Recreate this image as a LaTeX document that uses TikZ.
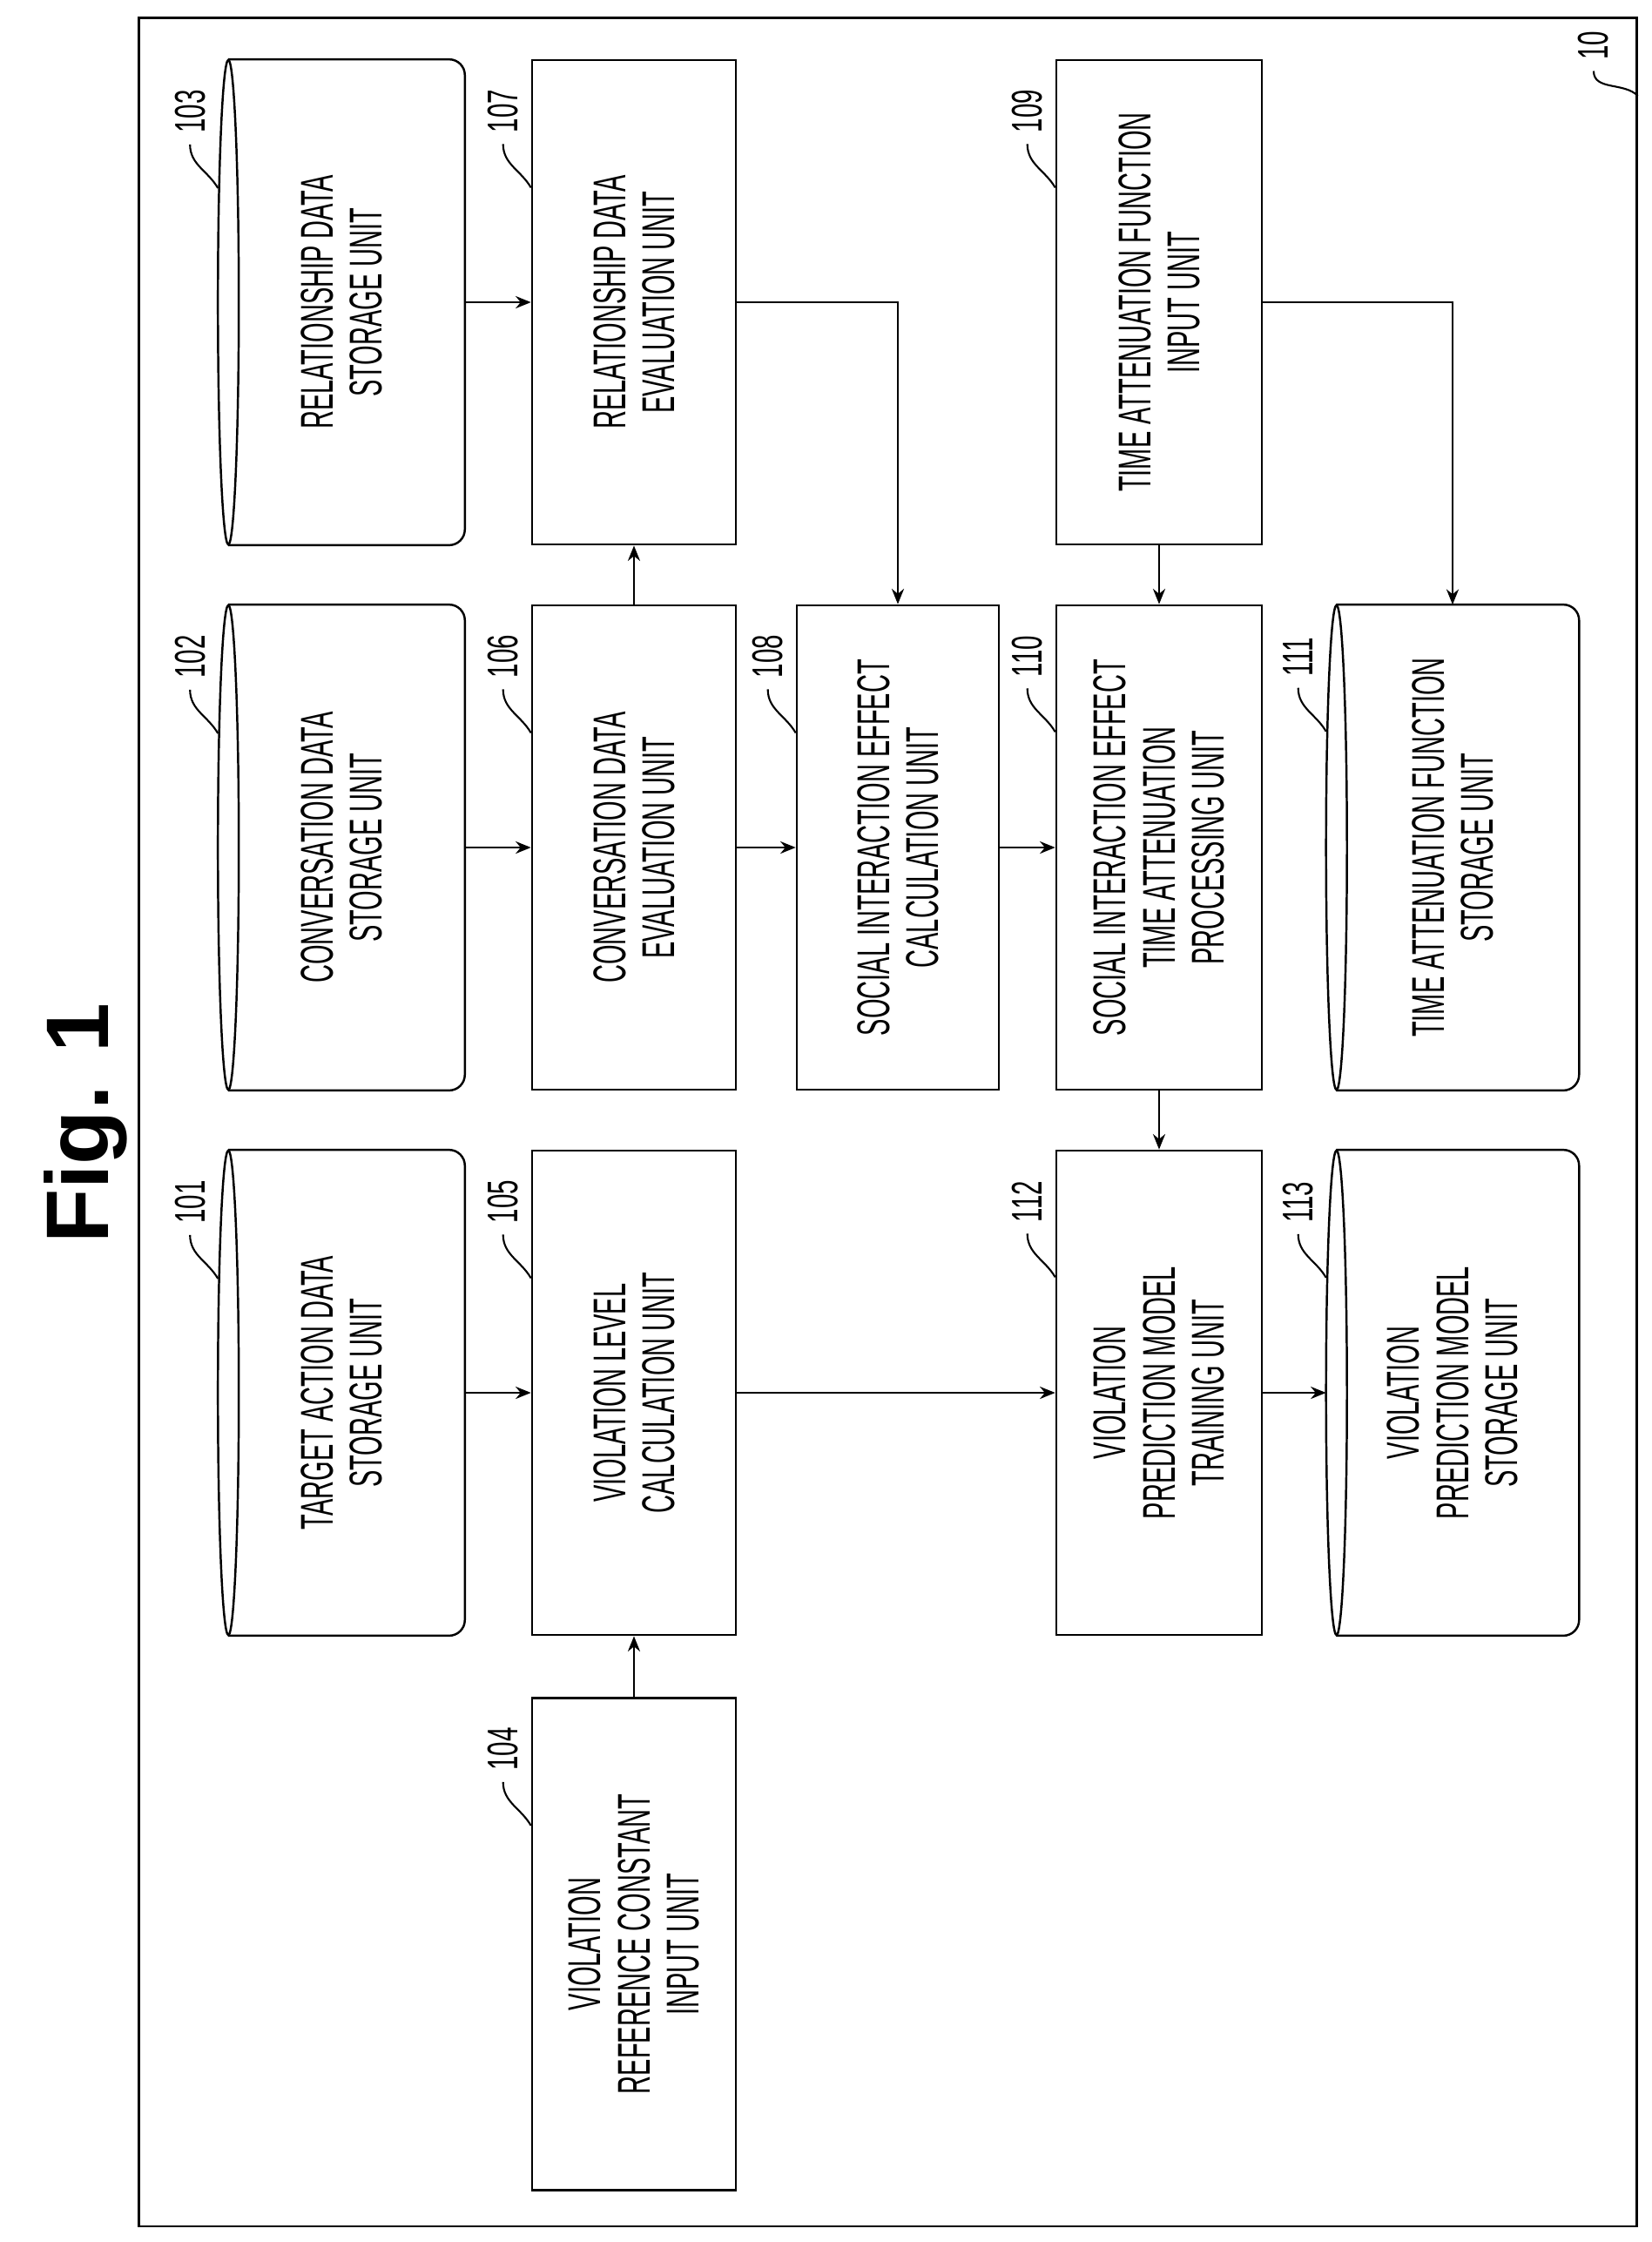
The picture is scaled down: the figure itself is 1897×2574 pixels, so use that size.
\documentclass[tikz,border=0pt]{standalone}
\usepackage{fontspec}
\setmainfont{Liberation Sans}
\usetikzlibrary{arrows.meta}

\tikzset{
    unit/.style={draw=none, inner sep=0pt},
    box/.style={draw, line width=0.7pt, inner sep=0pt},
    txt/.style={rotate=90, xscale=0.55, align=center, font=\fontsize{15}{16}\selectfont},
    refnum/.style={rotate=90, xscale=0.6, font=\fontsize{14}{14}\selectfont, inner sep=1pt},
    arr/.style={line width=0.7pt, -{Stealth[length=5pt,width=4pt]}},
    lead/.style={line width=0.6pt}
}
% drum shaped storage unit drawn around a named node
\newcommand{\drum}[1]{%
    \draw[line width=0.7pt, rounded corners=0.18cm] ([xshift=0.12cm]#1.north west) -- (#1.north east)
        -- (#1.south east) -- ([xshift=0.12cm]#1.south west);
    \draw[line width=0.7pt] ([xshift=0.12cm]#1.west) ellipse [x radius=0.12cm, y radius=2.78cm];
}
% reference numeral with its leader
\newcommand{\refno}[3]{%
    \node[refnum] (#1) at ([xshift=-0.32cm, yshift=-0.6cm]#2.north west) {#3};
    \draw[lead] ([yshift=-3pt]#1.west) to[out=-90, in=120] ++(0.32cm,-0.5cm);
}

\begin{document}
\begin{tikzpicture}[x=0.01cm, y=-0.01cm]
    \useasboundingbox (0,0) rectangle (1897,2574);

    \node[font=\bfseries\fontsize{29}{29}\selectfont, rotate=90] (fig) at (98,1290) {Fig. 1};
    \node[box, minimum width=17.19cm, minimum height=25.34cm] (frame) at (1019.5,1288) {};
    \node[refnum] (l10) at (1830,52) {10};
    \draw[lead] ([yshift=-3pt]l10.west) to[out=-90, in=135] (frame.north east |- 0,110);

    % storage drums
    \node[unit, minimum width=2.82cm, minimum height=5.56cm] (n103) at (392,347) {};
    \node[unit, minimum width=2.82cm, minimum height=5.56cm] (n102) at (392,973) {};
    \node[unit, minimum width=2.82cm, minimum height=5.56cm] (n101) at (392,1599) {};
    \node[unit, minimum width=2.89cm, minimum height=5.56cm] (n111) at (1668,973) {};
    \node[unit, minimum width=2.89cm, minimum height=5.56cm] (n113) at (1668,1599) {};
    \drum{n103} \drum{n102} \drum{n101} \drum{n111} \drum{n113}

    % processing units
    \node[box, minimum width=2.34cm, minimum height=5.56cm] (n107) at (728,347) {};
    \node[box, minimum width=2.34cm, minimum height=5.56cm] (n106) at (728,973) {};
    \node[box, minimum width=2.34cm, minimum height=5.56cm] (n105) at (728,1599) {};
    \node[box, minimum width=2.34cm, minimum height=5.65cm] (n104) at (728,2232) {};
    \node[box, minimum width=2.32cm, minimum height=5.56cm] (n108) at (1031,973) {};
    \node[box, minimum width=2.36cm, minimum height=5.56cm] (n109) at (1331,347) {};
    \node[box, minimum width=2.36cm, minimum height=5.56cm] (n110) at (1331,973) {};
    \node[box, minimum width=2.36cm, minimum height=5.56cm] (n112) at (1331,1599) {};

    \node[txt] (t101) at (n101) {TARGET ACTION DATA\\STORAGE UNIT};
    \node[txt] (t102) at (n102) {CONVERSATION DATA\\STORAGE UNIT};
    \node[txt] (t103) at (n103) {RELATIONSHIP DATA\\STORAGE UNIT};
    \node[txt] (t104) at (n104) {VIOLATION\\REFERENCE CONSTANT\\INPUT UNIT};
    \node[txt] (t105) at (n105) {VIOLATION LEVEL\\CALCULATION UNIT};
    \node[txt] (t106) at (n106) {CONVERSATION DATA\\EVALUATION UNIT};
    \node[txt] (t107) at (n107) {RELATIONSHIP DATA\\EVALUATION UNIT};
    \node[txt] (t108) at (n108) {SOCIAL INTERACTION EFFECT\\CALCULATION UNIT};
    \node[txt] (t109) at (n109) {TIME ATTENUATION FUNCTION\\INPUT UNIT};
    \node[txt] (t110) at (n110) {SOCIAL INTERACTION EFFECT\\TIME ATTENUATION\\PROCESSING UNIT};
    \node[txt] (t111) at (n111) {TIME ATTENUATION FUNCTION\\STORAGE UNIT};
    \node[txt] (t112) at (n112) {VIOLATION\\PREDICTION MODEL\\TRAINING UNIT};
    \node[txt] (t113) at (n113) {VIOLATION\\PREDICTION MODEL\\STORAGE UNIT};

    \refno{l101}{n101}{101} \refno{l102}{n102}{102} \refno{l103}{n103}{103}
    \refno{l104}{n104}{104} \refno{l105}{n105}{105} \refno{l106}{n106}{106}
    \refno{l107}{n107}{107} \refno{l108}{n108}{108} \refno{l109}{n109}{109}
    \refno{l110}{n110}{110} \refno{l111}{n111}{111} \refno{l112}{n112}{112}
    \refno{l113}{n113}{113}

    % data flow
    \draw[arr] (n101) -- (n105);
    \draw[arr] (n102) -- (n106);
    \draw[arr] (n103) -- (n107);
    \draw[arr] (n104) -- (n105);
    \draw[arr] (n106) -- (n107);
    \draw[arr] (n106) -- (n108);
    \draw[arr] (n107.east) -| (n108.north);
    \draw[arr] (n108) -- (n110);
    \draw[arr] (n109) -- (n110);
    \draw[arr] (n109.east) -| (n111.north);
    \draw[arr] (n110) -- (n112);
    \draw[arr] (n105) -- (n112);
    \draw[arr] (n112) -- (n113);

\end{tikzpicture}
\end{document}
